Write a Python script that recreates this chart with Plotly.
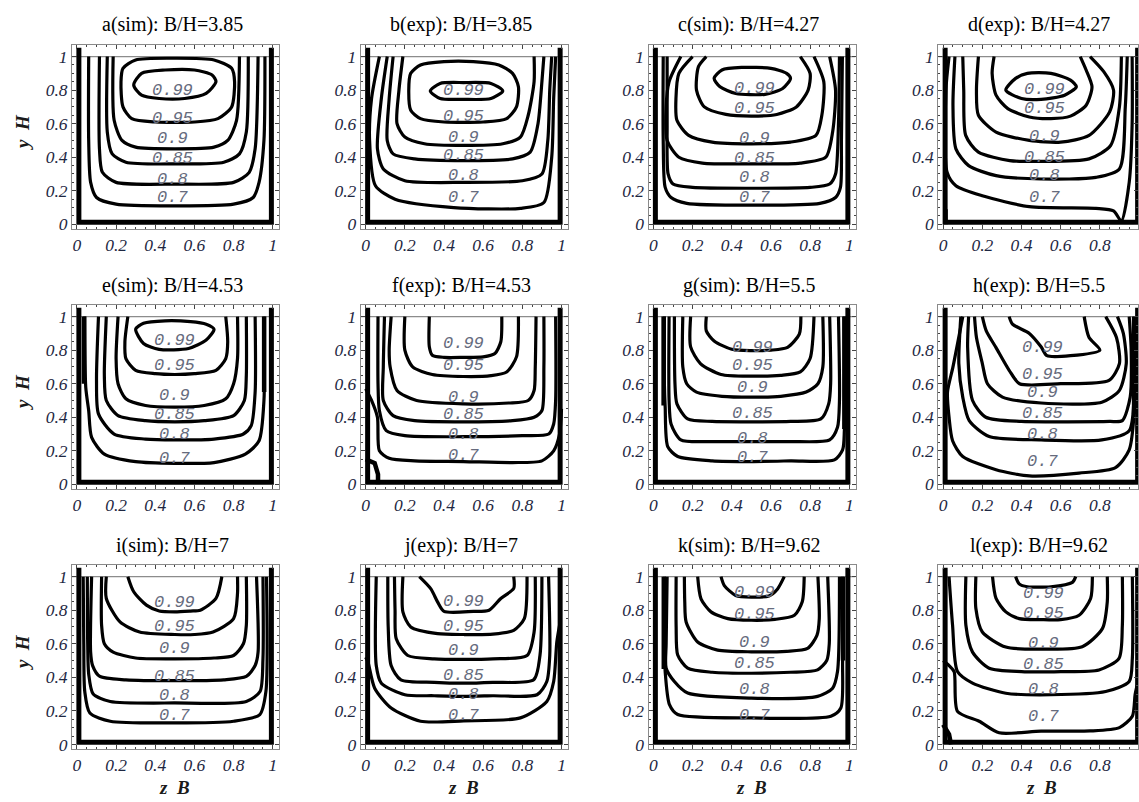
import plotly.graph_objects as go

W, H = 1139, 802
LEVELS = ["0.7", "0.8", "0.85", "0.9", "0.95", "0.99"]
TITLES = ["a(sim): B/H=3.85", "b(exp): B/H=3.85", "c(sim): B/H=4.27", "d(exp): B/H=4.27",
          "e(sim): B/H=4.53", "f(exp): B/H=4.53", "g(sim): B/H=5.5", "h(exp): B/H=5.5",
          "i(sim): B/H=7", "j(exp): B/H=7", "k(sim): B/H=9.62", "l(exp): B/H=9.62"]
TICK_VALS = [0, 0.2, 0.4, 0.6, 0.8, 1]
TICK_TEXT = ["0", "0.2", "0.4", "0.6", "0.8", "1"]

# contour lines per panel: (level, z/B values, y/H values)
PANEL_A = [
    ("0.7", [0.06, 0.06, 0.07, 0.10, 0.2, 0.5, 0.8, 0.9, 0.93, 0.955, 0.96], [1, 0.5, 0.25, 0.16, 0.12, 0.11, 0.12, 0.16, 0.25, 0.5, 1]),
    ("0.8", [0.115, 0.115, 0.13, 0.2, 0.5, 0.8, 0.88, 0.91, 0.925], [1, 0.45, 0.31, 0.25, 0.24, 0.25, 0.31, 0.45, 1]),
    ("0.85", [0.155, 0.155, 0.18, 0.25, 0.5, 0.75, 0.83, 0.865, 0.875], [1, 0.55, 0.42, 0.37, 0.36, 0.37, 0.42, 0.55, 1]),
    ("0.9", [0.185, 0.19, 0.23, 0.3, 0.5, 0.7, 0.77, 0.815, 0.83], [1, 0.62, 0.5, 0.46, 0.45, 0.46, 0.5, 0.62, 1]),
    ("0.95", [0.225, 0.235, 0.30, 0.5, 0.70, 0.79, 0.805, 0.79, 0.72, 0.6, 0.4, 0.28, 0.235, 0.225],
             [0.85, 0.93, 0.98, 0.99, 0.98, 0.93, 0.85, 0.70, 0.63, 0.61, 0.61, 0.63, 0.70, 0.85]),
    ("0.99", [0.29, 0.33, 0.45, 0.6, 0.69, 0.71, 0.66, 0.55, 0.42, 0.33, 0.29], [0.83, 0.90, 0.92, 0.92, 0.89, 0.85, 0.78, 0.75, 0.75, 0.77, 0.83]),
]
PANEL_B = [
    ("0.7", [0.07, 0.03, 0.02, 0.05, 0.15, 0.45, 0.79, 0.91, 0.95, 0.96, 0.97], [1, 0.75, 0.5, 0.23, 0.15, 0.1, 0.095, 0.13, 0.4, 0.75, 1]),
    ("0.8", [0.11, 0.08, 0.06, 0.09, 0.2, 0.5, 0.8, 0.9, 0.93, 0.94, 0.95], [1, 0.75, 0.45, 0.33, 0.26, 0.25, 0.26, 0.3, 0.5, 0.8, 1]),
    ("0.85", [0.14, 0.12, 0.11, 0.14, 0.25, 0.5, 0.75, 0.84, 0.88, 0.9, 0.91], [1, 0.75, 0.5, 0.42, 0.39, 0.38, 0.39, 0.43, 0.6, 0.85, 1]),
    ("0.9", [0.19, 0.17, 0.16, 0.2, 0.3, 0.5, 0.7, 0.79, 0.83, 0.86, 0.86], [1, 0.8, 0.6, 0.52, 0.48, 0.47, 0.48, 0.52, 0.65, 0.85, 1]),
    ("0.95", [0.22, 0.23, 0.28, 0.4, 0.55, 0.68, 0.75, 0.78, 0.77, 0.72, 0.6, 0.4, 0.28, 0.23, 0.22],
             [0.80, 0.90, 0.95, 0.97, 0.97, 0.95, 0.90, 0.82, 0.70, 0.63, 0.61, 0.61, 0.63, 0.68, 0.80]),
    ("0.99", [0.33, 0.38, 0.5, 0.64, 0.70, 0.64, 0.5, 0.38, 0.33], [0.795, 0.84, 0.845, 0.84, 0.795, 0.75, 0.745, 0.75, 0.795]),
]
PANEL_C = [
    ("0.7", [0.05, 0.05, 0.06, 0.09, 0.17, 0.5, 0.85, 0.93, 0.955, 0.96, 0.965], [1, 0.5, 0.22, 0.16, 0.125, 0.114, 0.125, 0.16, 0.22, 0.5, 1]),
    ("0.8", [0.07, 0.07, 0.075, 0.1, 0.2, 0.5, 0.8, 0.9, 0.93, 0.945, 0.95], [1, 0.6, 0.3, 0.24, 0.22, 0.215, 0.22, 0.24, 0.3, 0.6, 1]),
    ("0.85", [0.14, 0.08, 0.065, 0.07, 0.13, 0.25, 0.5, 0.75, 0.88, 0.915, 0.93, 0.9], [1, 0.85, 0.7, 0.5, 0.4, 0.365, 0.36, 0.365, 0.4, 0.55, 0.8, 1]),
    ("0.9", [0.2, 0.13, 0.115, 0.12, 0.18, 0.3, 0.5, 0.7, 0.83, 0.86, 0.87, 0.82], [1, 0.9, 0.75, 0.62, 0.53, 0.49, 0.48, 0.49, 0.53, 0.65, 0.85, 1]),
    ("0.95", [0.27, 0.23, 0.22, 0.26, 0.37, 0.5, 0.63, 0.73, 0.79, 0.80, 0.75], [1, 0.94, 0.8, 0.70, 0.655, 0.645, 0.655, 0.70, 0.8, 0.9, 1]),
    ("0.99", [0.31, 0.35, 0.45, 0.6, 0.68, 0.70, 0.66, 0.57, 0.42, 0.34, 0.31], [0.87, 0.92, 0.935, 0.93, 0.9, 0.87, 0.81, 0.775, 0.78, 0.82, 0.87]),
]
PANEL_D = [
    ("0.7", [0.03, 0.014, 0.02, 0.065, 0.2, 0.44, 0.78, 0.87, 0.91, 0.95, 0.965, 0.965], [1, 0.8, 0.31, 0.23, 0.17, 0.105, 0.095, 0.08, 0.02, 0.25, 0.6, 1]),
    ("0.8", [0.06, 0.05, 0.065, 0.13, 0.27, 0.5, 0.78, 0.9, 0.93, 0.94], [1, 0.71, 0.45, 0.35, 0.29, 0.27, 0.28, 0.33, 0.7, 1]),
    ("0.85", [0.10, 0.105, 0.115, 0.18, 0.34, 0.5, 0.745, 0.855, 0.9, 0.91], [1, 0.8, 0.53, 0.43, 0.38, 0.375, 0.39, 0.47, 0.7, 1]),
    ("0.9", [0.18, 0.17, 0.18, 0.27, 0.44, 0.6, 0.745, 0.85, 0.87, 0.82, 0.75], [1, 0.8, 0.65, 0.55, 0.50, 0.49, 0.53, 0.67, 0.8, 0.91, 1]),
    ("0.95", [0.26, 0.25, 0.27, 0.33, 0.44, 0.55, 0.65, 0.73, 0.76, 0.73, 0.70], [1, 0.9, 0.77, 0.69, 0.64, 0.63, 0.645, 0.71, 0.82, 0.92, 1]),
    ("0.99", [0.32, 0.37, 0.43, 0.55, 0.65, 0.68, 0.62, 0.5, 0.4, 0.32], [0.80, 0.87, 0.90, 0.9, 0.86, 0.82, 0.77, 0.745, 0.75, 0.80]),
]
PANEL_E = [
    ("0.7", [0.04, 0.045, 0.06, 0.075, 0.14, 0.3, 0.5, 0.7, 0.86, 0.93, 0.955, 0.955], [1, 0.58, 0.44, 0.28, 0.18, 0.135, 0.125, 0.13, 0.18, 0.26, 0.5, 1]),
    ("0.8", [0.11, 0.10, 0.11, 0.19, 0.35, 0.5, 0.7, 0.85, 0.89, 0.91, 0.91], [1, 0.62, 0.42, 0.3, 0.27, 0.265, 0.27, 0.3, 0.35, 0.55, 1]),
    ("0.85", [0.15, 0.14, 0.15, 0.21, 0.35, 0.5, 0.65, 0.8, 0.855, 0.865, 0.865], [1, 0.65, 0.5, 0.41, 0.38, 0.373, 0.38, 0.41, 0.5, 0.65, 1]),
    ("0.9", [0.21, 0.2, 0.21, 0.25, 0.35, 0.5, 0.65, 0.76, 0.8, 0.82, 0.82], [1, 0.75, 0.6, 0.51, 0.47, 0.46, 0.47, 0.51, 0.6, 0.75, 1]),
    ("0.95", [0.26, 0.245, 0.25, 0.3, 0.4, 0.5, 0.6, 0.71, 0.76, 0.77, 0.76], [1, 0.85, 0.75, 0.68, 0.66, 0.655, 0.66, 0.68, 0.75, 0.85, 1]),
    ("0.99", [0.30, 0.34, 0.45, 0.58, 0.66, 0.70, 0.66, 0.57, 0.42, 0.34, 0.30], [0.925, 0.96, 0.975, 0.97, 0.955, 0.925, 0.86, 0.81, 0.805, 0.84, 0.925]),
]
PANEL_F = [
    ("0.7", [0.0, 0.03, 0.06, 0.07, 0.12, 0.25, 0.5, 0.75, 0.9, 0.96, 0.99, 1.0], [0.57, 0.5, 0.4, 0.2, 0.155, 0.14, 0.136, 0.13, 0.14, 0.2, 0.3, 0.45]),
    ("0.8", [0.063, 0.063, 0.07, 0.105, 0.2, 0.5, 0.8, 0.935, 0.96, 0.97, 0.97], [1, 0.6, 0.44, 0.32, 0.29, 0.284, 0.29, 0.3, 0.36, 0.5, 1]),
    ("0.85", [0.096, 0.09, 0.09, 0.14, 0.25, 0.5, 0.75, 0.86, 0.9, 0.91, 0.91], [1, 0.7, 0.5, 0.41, 0.38, 0.373, 0.38, 0.4, 0.44, 0.7, 1]),
    ("0.9", [0.13, 0.12, 0.125, 0.16, 0.26, 0.5, 0.73, 0.83, 0.86, 0.866, 0.87], [1, 0.8, 0.7, 0.56, 0.5, 0.48, 0.485, 0.5, 0.56, 0.7, 1]),
    ("0.95", [0.20, 0.20, 0.24, 0.34, 0.5, 0.64, 0.72, 0.77, 0.78], [1, 0.8, 0.7, 0.655, 0.643, 0.648, 0.67, 0.76, 1]),
    ("0.99", [0.325, 0.325, 0.34, 0.4, 0.5, 0.6, 0.66, 0.69, 0.695], [1, 0.82, 0.77, 0.757, 0.757, 0.76, 0.78, 0.85, 1]),
]
PANEL_G = [
    ("0.7", [0.056, 0.056, 0.06, 0.073, 0.124, 0.3, 0.5, 0.7, 0.924, 0.966, 0.975, 0.975], [1, 0.6, 0.46, 0.225, 0.166, 0.14, 0.136, 0.14, 0.146, 0.205, 0.32, 1]),
    ("0.8", [0.08, 0.08, 0.09, 0.14, 0.3, 0.5, 0.7, 0.9, 0.94, 0.95, 0.945], [1, 0.5, 0.36, 0.265, 0.255, 0.255, 0.255, 0.265, 0.34, 0.5, 1]),
    ("0.85", [0.107, 0.11, 0.12, 0.175, 0.3, 0.5, 0.7, 0.855, 0.895, 0.905, 0.9], [1, 0.6, 0.48, 0.39, 0.375, 0.373, 0.375, 0.39, 0.48, 0.6, 1]),
    ("0.9", [0.15, 0.15, 0.17, 0.22, 0.35, 0.5, 0.65, 0.78, 0.84, 0.865, 0.865], [1, 0.7, 0.6, 0.55, 0.525, 0.52, 0.525, 0.55, 0.6, 0.7, 1]),
    ("0.95", [0.19, 0.19, 0.24, 0.345, 0.5, 0.65, 0.75, 0.8, 0.82], [1, 0.82, 0.72, 0.655, 0.645, 0.65, 0.67, 0.75, 1]),
    ("0.99", [0.27, 0.27, 0.31, 0.4, 0.5, 0.6, 0.685, 0.745, 0.753], [1, 0.915, 0.855, 0.805, 0.797, 0.8, 0.817, 0.895, 1]),
]
PANEL_H = [
    ("0.7", [0.1, 0.05, 0.022, 0.03, 0.048, 0.1, 0.27, 0.44, 0.694, 0.88, 0.95, 0.975, 0.983], [1, 0.7, 0.55, 0.4, 0.26, 0.166, 0.087, 0.05, 0.067, 0.1, 0.205, 0.42, 1]),
    ("0.8", [0.09, 0.08, 0.1, 0.133, 0.235, 0.5, 0.81, 0.95, 0.975, 0.98], [1, 0.72, 0.52, 0.38, 0.285, 0.265, 0.265, 0.32, 0.52, 1]),
    ("0.85", [0.13, 0.125, 0.15, 0.218, 0.4, 0.6, 0.85, 0.915, 0.955, 0.96, 0.95], [1, 0.815, 0.5, 0.4, 0.375, 0.373, 0.375, 0.38, 0.52, 0.8, 1]),
    ("0.9", [0.16, 0.17, 0.2, 0.226, 0.303, 0.5, 0.81, 0.9, 0.935, 0.92, 0.89], [1, 0.875, 0.72, 0.6, 0.52, 0.485, 0.49, 0.56, 0.72, 0.9, 1]),
    ("0.95", [0.2, 0.22, 0.27, 0.337, 0.39, 0.6, 0.847, 0.9, 0.885, 0.83], [1, 0.915, 0.815, 0.68, 0.6, 0.6, 0.62, 0.72, 0.875, 1]),
    ("0.99", [0.337, 0.354, 0.44, 0.5, 0.53, 0.65, 0.8, 0.745, 0.72], [1, 0.955, 0.9, 0.82, 0.767, 0.767, 0.8, 0.875, 1]),
]
PANEL_I = [
    ("0.7", [0.032, 0.035, 0.04, 0.066, 0.17, 0.5, 0.8, 0.934, 0.965, 0.968], [1, 0.6, 0.315, 0.187, 0.138, 0.128, 0.138, 0.178, 0.315, 1]),
    ("0.8", [0.053, 0.055, 0.06, 0.083, 0.17, 0.5, 0.865, 0.935, 0.95, 0.95], [1, 0.6, 0.42, 0.3, 0.256, 0.247, 0.256, 0.315, 0.51, 1]),
    ("0.85", [0.075, 0.07, 0.08, 0.117, 0.25, 0.5, 0.75, 0.865, 0.91, 0.925, 0.917], [1, 0.55, 0.47, 0.405, 0.385, 0.38, 0.385, 0.405, 0.47, 0.55, 1]),
    ("0.9", [0.126, 0.126, 0.14, 0.185, 0.3, 0.5, 0.7, 0.8, 0.85, 0.865, 0.865], [1, 0.71, 0.6, 0.55, 0.515, 0.51, 0.515, 0.53, 0.6, 0.71, 1]),
    ("0.95", [0.15, 0.15, 0.22, 0.32, 0.5, 0.6, 0.695, 0.8, 0.82, 0.82], [1, 0.87, 0.73, 0.67, 0.655, 0.655, 0.67, 0.75, 0.9, 1]),
    ("0.99", [0.26, 0.29, 0.355, 0.42, 0.5, 0.58, 0.63, 0.71, 0.74], [1, 0.91, 0.83, 0.795, 0.79, 0.795, 0.8, 0.87, 1]),
]
PANEL_J = [
    ("0.7", [0.0, 0.012, 0.046, 0.13, 0.28, 0.5, 0.79, 0.925, 0.96, 0.976, 0.993], [0.52, 0.49, 0.335, 0.217, 0.138, 0.14, 0.158, 0.256, 0.375, 0.61, 0.73]),
    ("0.8", [0.054, 0.054, 0.08, 0.2, 0.35, 0.5, 0.65, 0.875, 0.925, 0.94, 0.934], [1, 0.47, 0.365, 0.296, 0.29, 0.286, 0.29, 0.296, 0.375, 0.53, 1]),
    ("0.85", [0.113, 0.115, 0.13, 0.18, 0.35, 0.5, 0.65, 0.858, 0.89, 0.9], [1, 0.7, 0.47, 0.385, 0.37, 0.365, 0.37, 0.385, 0.53, 1]),
    ("0.9", [0.147, 0.15, 0.156, 0.215, 0.35, 0.5, 0.65, 0.824, 0.86, 0.866], [1, 0.8, 0.63, 0.53, 0.51, 0.507, 0.51, 0.53, 0.67, 1]),
    ("0.95", [0.19, 0.19, 0.23, 0.367, 0.5, 0.65, 0.756, 0.81, 0.824], [1, 0.79, 0.7, 0.66, 0.655, 0.657, 0.68, 0.75, 1]),
    ("0.99", [0.274, 0.333, 0.367, 0.4, 0.55, 0.63, 0.69, 0.756, 0.756], [1, 0.927, 0.85, 0.793, 0.793, 0.8, 0.87, 0.93, 1]),
]
PANEL_K = [
    ("0.7", [0.056, 0.056, 0.06, 0.082, 0.124, 0.5, 0.906, 0.957, 0.966, 0.966], [1, 0.6, 0.434, 0.237, 0.178, 0.158, 0.168, 0.217, 0.49, 1]),
    ("0.8", [0.07, 0.065, 0.065, 0.107, 0.175, 0.5, 0.838, 0.915, 0.94, 0.95], [1, 0.6, 0.454, 0.375, 0.306, 0.276, 0.286, 0.335, 0.434, 1]),
    ("0.85", [0.116, 0.116, 0.124, 0.175, 0.3, 0.5, 0.7, 0.838, 0.885, 0.898, 0.89], [1, 0.7, 0.533, 0.454, 0.43, 0.424, 0.43, 0.444, 0.5, 0.6, 1]),
    ("0.9", [0.158, 0.16, 0.167, 0.226, 0.328, 0.5, 0.68, 0.787, 0.835, 0.847, 0.84], [1, 0.85, 0.73, 0.61, 0.562, 0.552, 0.555, 0.572, 0.65, 0.75, 1]),
    ("0.95", [0.226, 0.243, 0.294, 0.38, 0.5, 0.62, 0.72, 0.76, 0.77], [1, 0.868, 0.79, 0.75, 0.74, 0.745, 0.77, 0.85, 1]),
    ("0.99", [0.345, 0.362, 0.42, 0.5, 0.59, 0.634, 0.668], [1, 0.947, 0.888, 0.878, 0.885, 0.927, 1]),
]
PANEL_L = [
    ("0.7", [0.0, 0.03, 0.056, 0.073, 0.184, 0.286, 0.5, 0.75, 0.9, 0.966, 0.98, 0.99], [0.5, 0.47, 0.434, 0.197, 0.138, 0.069, 0.079, 0.08, 0.1, 0.168, 0.296, 0.35]),
    ("0.8", [0.03, 0.048, 0.073, 0.15, 0.32, 0.55, 0.83, 0.95, 0.966, 0.966], [1, 0.71, 0.434, 0.365, 0.305, 0.296, 0.315, 0.375, 0.513, 1]),
    ("0.85", [0.116, 0.116, 0.15, 0.235, 0.4, 0.6, 0.796, 0.898, 0.915, 0.915], [1, 0.71, 0.55, 0.454, 0.434, 0.434, 0.444, 0.513, 0.71, 1]),
    ("0.9", [0.167, 0.167, 0.2, 0.32, 0.5, 0.71, 0.813, 0.838, 0.838], [1, 0.81, 0.67, 0.58, 0.568, 0.582, 0.69, 0.85, 1]),
    ("0.95", [0.252, 0.27, 0.32, 0.388, 0.5, 0.6, 0.694, 0.753, 0.762], [1, 0.87, 0.79, 0.75, 0.744, 0.744, 0.77, 0.87, 1]),
    ("0.99", [0.37, 0.388, 0.43, 0.55, 0.66, 0.677], [1, 0.957, 0.94, 0.94, 0.966, 1]),
]
PANELS = [PANEL_A, PANEL_B, PANEL_C, PANEL_D, PANEL_E, PANEL_F,
          PANEL_G, PANEL_H, PANEL_I, PANEL_J, PANEL_K, PANEL_L]

# extra heavy segments near the walls (crowded low-level contours)
EXTRA = {
    3: [([0.012, 0.012], [0.0, 0.09])],
    4: [([0.036, 0.036], [1.0, 0.6]), ([0.956, 0.956], [1.0, 0.55])],
    5: [([0.0, 0.046, 0.063, 0.063], [0.15, 0.126, 0.06, 0.0])],
    6: [([0.052, 0.052], [1.0, 0.47]), ([0.975, 0.975], [1.0, 0.33])],
    7: [([0.975, 0.975], [1.0, 0.42])],
    10: [([0.053, 0.053], [1.0, 0.45]), ([0.968, 0.968], [1.0, 0.5])],
    11: [([0.0, 0.03, 0.04], [0.118, 0.06, 0.0])],
}

# contour label positions: (z centre, y for each of LEVELS)
LABELS = [
    (0.49, [0.16, 0.27, 0.395, 0.51, 0.63, 0.795]),
    (0.50, [0.16, 0.29, 0.41, 0.52, 0.64, 0.795]),
    (0.515, [0.16, 0.28, 0.39, 0.51, 0.69, 0.81]),
    (0.515, [0.16, 0.29, 0.40, 0.525, 0.69, 0.805]),
    (0.50, [0.155, 0.30, 0.415, 0.53, 0.71, 0.855]),
    (0.50, [0.17, 0.30, 0.415, 0.52, 0.71, 0.84]),
    (0.507, [0.16, 0.275, 0.425, 0.575, 0.71, 0.815]),
    (0.507, [0.135, 0.30, 0.42, 0.545, 0.655, 0.815]),
    (0.50, [0.175, 0.29, 0.405, 0.57, 0.70, 0.845]),
    (0.50, [0.175, 0.30, 0.41, 0.56, 0.70, 0.85]),
    (0.515, [0.17, 0.325, 0.483, 0.607, 0.773, 0.907]),
    (0.51, [0.168, 0.325, 0.477, 0.60, 0.78, 0.897]),
]

# pixel layout of each subplot (z=0 pixel column, y=1 pixel row)
COL_X0 = [77, 366, 654, 944]
ROW_Y1 = [57, 319, 581]
PX_PER_UNIT_X = 196
PX_PER_UNIT_Y = 169
X_LO, X_HI = -0.025, 1.032
Y_LO, Y_HI = -0.025, 1.07

TICK_COLOR = "#1e2742"
LABEL_COLOR = "#666b7d"

fig = go.Figure()
layout = dict(width=W, height=H, margin=dict(l=0, r=0, t=0, b=0), autosize=False,
              paper_bgcolor="white", plot_bgcolor="white", showlegend=False, annotations=[])

for k in range(12):
    r, c = divmod(k, 4)
    ax = "" if k == 0 else str(k + 1)
    xref, yref = "x" + ax, "y" + ax
    x0 = COL_X0[c]
    left_px = x0 + X_LO * PX_PER_UNIT_X
    right_px = min(x0 + X_HI * PX_PER_UNIT_X, W)
    x_hi = (right_px - x0) / PX_PER_UNIT_X
    y1 = ROW_Y1[r]
    y0 = y1 + PX_PER_UNIT_Y
    top_px = y0 - Y_HI * PX_PER_UNIT_Y
    bot_px = y0 - Y_LO * PX_PER_UNIT_Y

    common = dict(showgrid=False, zeroline=False, showline=True, linecolor="#8a8a8a", linewidth=1,
                  mirror="allticks", ticks="inside", ticklen=4, tickwidth=1, tickcolor="#444",
                  tickvals=TICK_VALS, ticktext=TICK_TEXT,
                  tickfont=dict(family="Liberation Serif", size=17.5, color=TICK_COLOR, style="italic"),
                  minor=dict(tickvals=[v / 20 for v in range(0, 21) if v % 4 != 0], ticks="inside",
                             ticklen=2, tickcolor="#444"),
                  fixedrange=True)
    layout["xaxis" + ax] = dict(common, domain=[left_px / W, right_px / W], range=[X_LO, x_hi],
                                anchor=yref)
    layout["yaxis" + ax] = dict(common, domain=[1 - bot_px / H, 1 - top_px / H], range=[Y_LO, Y_HI],
                                anchor=xref)

    # gray line at y/H = 1
    fig.add_trace(go.Scatter(x=[X_LO, X_HI], y=[1, 1], mode="lines", xaxis=xref, yaxis=yref,
                             line=dict(color="#8c8c8c", width=1.2), hoverinfo="skip"))
    # channel walls
    fig.add_trace(go.Scatter(x=[0.01, 0.01, 0.993, 0.993], y=[1.053, 0.012, 0.012, 1.053], mode="lines",
                             xaxis=xref, yaxis=yref, line=dict(color="black", width=5),
                             hoverinfo="skip"))
    for zs, ys in EXTRA.get(k, []):
        fig.add_trace(go.Scatter(x=zs, y=ys, mode="lines", xaxis=xref, yaxis=yref,
                                 line=dict(color="black", width=4.5), hoverinfo="skip"))
    for lev, zs, ys in PANELS[k]:
        fig.add_trace(go.Scatter(x=zs, y=ys, mode="lines", xaxis=xref, yaxis=yref, name=lev,
                                 line=dict(color="black", width=3.2, shape="spline", smoothing=0.7)))
    zc, label_y = LABELS[k]
    for lev, ly in zip(LEVELS, label_y):
        layout["annotations"].append(dict(
            x=zc, y=ly, xref=xref, yref=yref, text="<i>" + lev + "</i>", showarrow=False,
            font=dict(family="Liberation Mono", size=17, color=LABEL_COLOR)))

    # panel title
    frame_centre = (x0 - 5 + x0 + 202) / 2 - 3
    layout["annotations"].append(dict(
        x=frame_centre / W, y=1 - (top_px - 20) / H, xref="paper", yref="paper",
        text=TITLES[k], showarrow=False, xanchor="center", yanchor="middle",
        font=dict(family="Liberation Serif", size=20, color="black")))

    if c == 0:
        layout["annotations"].append(dict(
            x=22 / W, y=1 - (y1 + 76) / H, xref="paper", yref="paper", text="<b><i>y  H</i></b>",
            textangle=-90, showarrow=False, xanchor="center", yanchor="middle",
            font=dict(family="Liberation Serif", size=19, color="#1a1a1a")))
    if r == 2:
        layout["annotations"].append(dict(
            x=(x0 + 98) / W, y=1 - 793 / H, xref="paper", yref="paper", text="<b><i>z  B</i></b>",
            showarrow=False, xanchor="center", yanchor="middle",
            font=dict(family="Liberation Serif", size=19, color="#1a1a1a")))

fig.update_layout(**layout)
fig.write_html("out.html")
